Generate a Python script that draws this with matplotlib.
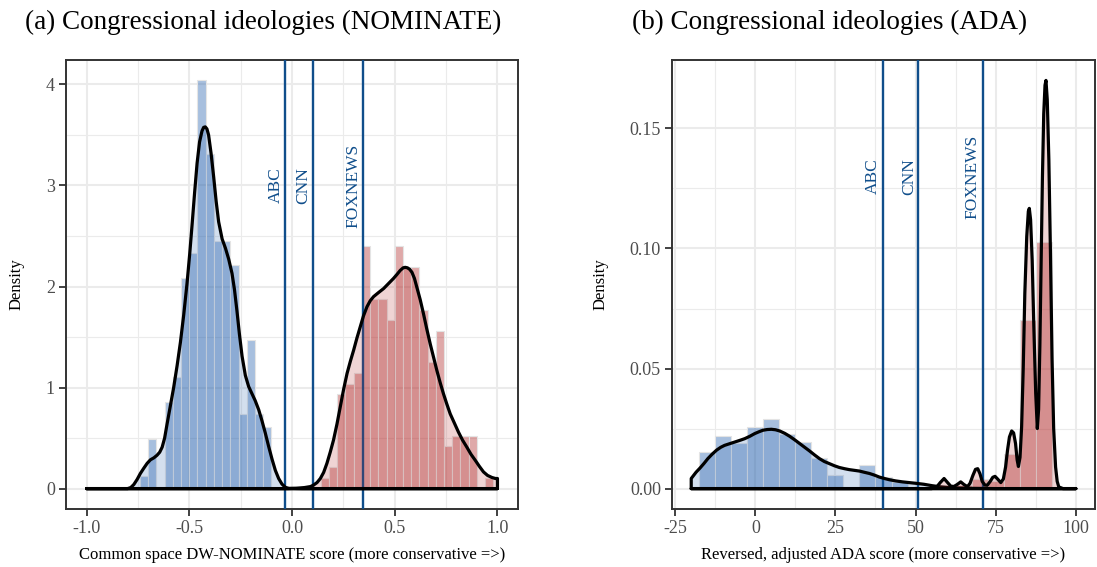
import matplotlib
matplotlib.use("Agg")
import matplotlib.pyplot as plt
from matplotlib.patches import Polygon
import numpy as np

plt.rcParams['font.family'] = ['Liberation Serif', 'DejaVu Serif']
plt.rcParams['axes.unicode_minus'] = False

# ---------------- Panel (a): DW-NOMINATE ----------------
nom_binwidth = 0.04
nom_dem_bin_left = [-0.74, -0.70, -0.66, -0.62, -0.58, -0.54, -0.50, -0.46,
                    -0.42, -0.38, -0.34, -0.30, -0.26, -0.22, -0.18, -0.14]
nom_dem_density = [0.12, 0.49, 0.0, 0.86, 1.10, 2.08, 2.33, 4.04,
                   3.31, 2.45, 2.45, 2.21, 0.74, 1.47, 0.74, 0.61]
nom_rep_bin_left = [0.14, 0.18, 0.22, 0.26, 0.30, 0.34, 0.38, 0.42, 0.46, 0.50,
                    0.54, 0.58, 0.62, 0.66, 0.70, 0.74, 0.78, 0.82, 0.86, 0.90, 0.94]
nom_rep_density = [0.10, 0.21, 0.94, 1.04, 1.14, 2.40, 1.88, 1.88, 1.67, 2.40,
                   2.19, 2.19, 1.77, 1.25, 1.56, 0.42, 0.52, 0.52, 0.52, 0.0, 0.10]

nom_dem_kde_x = [-1.0, -0.80, -0.785, -0.77, -0.754, -0.738, -0.722, -0.705, -0.689,
                 -0.672, -0.657, -0.644, -0.632, -0.62, -0.608, -0.592, -0.576, -0.559,
                 -0.543, -0.527, -0.511, -0.498, -0.486, -0.474, -0.462, -0.450, -0.438,
                 -0.430, -0.422, -0.414, -0.406, -0.394, -0.381, -0.369, -0.357, -0.340,
                 -0.324, -0.308, -0.292, -0.280, -0.268, -0.256, -0.243, -0.227, -0.211,
                 -0.195, -0.179, -0.162, -0.146, -0.130, -0.114, -0.097, -0.081, -0.065,
                 -0.049, -0.032, -0.015, 0.05, 1.0]
nom_dem_kde_y = [0.0, 0.0, 0.01, 0.04, 0.09, 0.15, 0.20, 0.25, 0.285,
                 0.305, 0.33, 0.36, 0.41, 0.50, 0.64, 0.82, 1.00, 1.22,
                 1.45, 1.72, 2.03, 2.32, 2.62, 2.93, 3.22, 3.43, 3.54,
                 3.575, 3.58, 3.56, 3.50, 3.32, 3.08, 2.84, 2.64, 2.47,
                 2.38, 2.27, 2.13, 1.97, 1.76, 1.53, 1.31, 1.12, 1.01,
                 0.94, 0.87, 0.78, 0.67, 0.55, 0.42, 0.29, 0.18, 0.10,
                 0.045, 0.012, 0.002, 0.0, 0.0]
nom_rep_kde_x = [-1.0, -0.02, 0.02, 0.06, 0.09, 0.105, 0.122, 0.138, 0.154, 0.170,
                 0.186, 0.202, 0.219, 0.235, 0.251, 0.268, 0.284, 0.300, 0.316,
                 0.332, 0.348, 0.365, 0.381, 0.397, 0.421, 0.446, 0.470, 0.494,
                 0.511, 0.527, 0.541, 0.551, 0.562, 0.573, 0.584, 0.596, 0.608,
                 0.624, 0.640, 0.656, 0.673, 0.689, 0.705, 0.721, 0.737, 0.753,
                 0.770, 0.790, 0.810, 0.830, 0.851, 0.871, 0.892, 0.912, 0.932,
                 0.952, 0.973, 0.990, 1.0]
nom_rep_kde_y = [0.0, 0.0, 0.003, 0.01, 0.02, 0.035, 0.06, 0.10, 0.16, 0.25,
                 0.36, 0.48, 0.64, 0.81, 0.98, 1.14, 1.26, 1.37, 1.49,
                 1.60, 1.71, 1.80, 1.86, 1.90, 1.94, 1.98, 2.03, 2.08,
                 2.12, 2.16, 2.185, 2.19, 2.185, 2.17, 2.14, 2.08, 1.99,
                 1.87, 1.73, 1.58, 1.43, 1.30, 1.17, 1.05, 0.94, 0.84,
                 0.74, 0.65, 0.56, 0.48, 0.41, 0.34, 0.28, 0.22, 0.165,
                 0.13, 0.11, 0.10, 0.10]

nom_outlets = ["ABC", "CNN", "FOXNEWS"]
nom_outlet_scores = [-0.032, 0.103, 0.346]
nom_xticks = [-1.0, -0.5, 0.0, 0.5, 1.0]
nom_xticklabels = ["-1.0", "-0.5", "0.0", "0.5", "1.0"]
nom_yticks = [0, 1, 2, 3, 4]
nom_yticklabels = ["0", "1", "2", "3", "4"]

# ---------------- Panel (b): ADA ----------------
ada_binwidth = 5
ada_dem_bin_left = [-17.5, -12.5, -7.5, -2.5, 2.5, 7.5, 12.5, 17.5, 22.5,
                    27.5, 32.5, 37.5, 42.5]
ada_dem_density = [0.0153, 0.0218, 0.0190, 0.0257, 0.0289, 0.0229, 0.0194,
                   0.0129, 0.0058, 0.0, 0.0097, 0.0048, 0.0026]
ada_rep_bin_left = [57.5, 62.5, 67.5, 72.5, 77.5, 82.5, 87.5]
ada_rep_density = [0.0008, 0.0017, 0.0042, 0.0033, 0.0146, 0.0701, 0.1028]

ada_dem_kde_x = [-20.0, -18.5, -17.3, -16.0, -14.8, -13.5, -12.1, -10.8, -9.6, -8.0,
                 -6.4, -4.8, -3.3, -1.7, -0.2, 1.2, 2.4, 3.7, 5.0, 6.3, 7.6, 9.2,
                 10.7, 12.3, 13.8, 15.4, 16.9, 18.5, 20.0, 21.5, 23.1, 24.7, 26.2,
                 27.8, 29.3, 30.9, 32.5, 34.0, 35.6, 37.2, 38.7, 40.3, 41.8, 43.8,
                 45.9, 48.0, 50.1, 52.6, 55.2, 58.0, 62.0, 68.0, 75.0, 100.0]
ada_dem_kde_y = [0.0042, 0.0068, 0.0085, 0.0105, 0.0125, 0.0143, 0.0160, 0.0172,
                 0.0180, 0.0187, 0.0194, 0.0201, 0.0208, 0.0218, 0.0229, 0.0237,
                 0.0243, 0.0246, 0.0247, 0.0245, 0.0240, 0.0230, 0.0218, 0.0203,
                 0.0188, 0.0172, 0.0157, 0.0140, 0.0125, 0.0113, 0.0104, 0.0095,
                 0.0088, 0.0083, 0.0079, 0.0076, 0.0073, 0.0068, 0.0063, 0.0056,
                 0.0048, 0.0042, 0.0037, 0.0032, 0.0028, 0.0025, 0.0022, 0.0018,
                 0.0012, 0.0007, 0.0003, 0.0001, 0.0, 0.0]
ada_rep_kde_x = [-20.0, 55.0, 56.5, 57.7, 58.9, 60.0, 61.0, 62.0, 63.0, 64.1, 65.1,
                 66.2, 67.0, 67.9, 68.7, 69.4, 70.1, 70.8, 71.6, 72.4, 73.3, 74.1,
                 74.8, 75.6, 76.6, 77.4, 78.1, 78.7, 79.3, 80.0, 80.6, 81.2, 81.7,
                 82.1, 82.6, 83.1, 83.6, 84.1, 84.7, 85.2, 85.5, 85.9, 86.4, 86.9,
                 87.5, 88.0, 88.4, 88.8, 89.2, 89.6, 90.0, 90.4, 90.7, 91.1, 91.6,
                 92.1, 92.6, 93.1, 93.7, 94.2, 94.7, 96.0, 100.0]
ada_rep_kde_y = [0.0, 0.0, 0.0005, 0.0025, 0.0042, 0.0025, 0.0010, 0.0009, 0.0017,
                 0.0028, 0.0017, 0.0008, 0.0022, 0.0055, 0.0080, 0.0083, 0.0062,
                 0.0030, 0.0015, 0.0014, 0.0030, 0.0047, 0.0051, 0.0040, 0.0025,
                 0.0040, 0.0090, 0.0160, 0.0215, 0.0240, 0.0232, 0.0188, 0.0120,
                 0.0092, 0.0130, 0.0257, 0.0500, 0.0813, 0.1050, 0.1155, 0.1167,
                 0.1120, 0.0951, 0.0680, 0.0396, 0.0250, 0.0330, 0.0600, 0.0950,
                 0.1300, 0.1560, 0.1680, 0.1700, 0.1620, 0.1370, 0.0980, 0.0540,
                 0.0250, 0.0090, 0.0030, 0.0007, 0.0, 0.0]

ada_outlets = ["ABC", "CNN", "FOXNEWS"]
ada_outlet_scores = [39.7, 50.9, 70.9]
ada_xticks = [-25, 0, 25, 50, 75, 100]
ada_xticklabels = ["-25", "0", "25", "50", "75", "100"]
ada_yticks = [0.0, 0.05, 0.10, 0.15]
ada_yticklabels = ["0.00", "0.05", "0.10", "0.15"]

# ---------------- styling ----------------
DEM = (0.137, 0.373, 0.678)
REP = (0.694, 0.157, 0.157)
OUTLET = "#104E8B"
GRID = "#ebebeb"
FRAME = "#333333"

fig = plt.figure(figsize=(10.97, 5.67), dpi=100)
ax1 = fig.add_axes([66 / 1097, 1 - 509 / 567, (518 - 66) / 1097, (509 - 60) / 567])
ax2 = fig.add_axes([672 / 1097, 1 - 509 / 567, (1095 - 672) / 1097, (509 - 60) / 567])


def density_polygon(ax, xs, ys, color):
    pts = np.column_stack([[xs[0]] + list(xs) + [xs[-1]], [0.0] + list(ys) + [0.0]])
    poly = Polygon(pts, closed=True, facecolor=color + (0.2,), edgecolor="black",
                   linewidth=2.3, joinstyle="round", zorder=4)
    ax.add_patch(poly)


def panel(ax, bw, dem_left, dem_h, rep_left, rep_h, dem_kx, dem_ky, rep_kx, rep_ky,
          outlets, scores, label_y, xticks, xticklabels, yticks, yticklabels,
          xminor, yminor, xlim, ylim, xlabel):
    ax.bar(dem_left, dem_h, width=bw, align="edge", color=DEM + (0.4,),
           edgecolor="#e4e4e4", linewidth=0.8, zorder=2)
    ax.bar(rep_left, rep_h, width=bw, align="edge", color=REP + (0.4,),
           edgecolor="#e4e4e4", linewidth=0.8, zorder=2)
    for x in scores:
        ax.axvline(x, color=OUTLET, linewidth=1.7, zorder=3)
    density_polygon(ax, dem_kx, dem_ky, DEM)
    density_polygon(ax, rep_kx, rep_ky, REP)
    for name, x in zip(outlets, scores):
        ax.annotate(name, xy=(x, label_y), xytext=(-1.2, 0), textcoords="offset points",
                    rotation=90, ha="right", va="center", color=OUTLET,
                    fontsize=12.5, zorder=5)
    ax.set_xlim(*xlim)
    ax.set_ylim(*ylim)
    ax.set_xticks(xticks)
    ax.set_xticklabels(xticklabels)
    ax.set_yticks(yticks)
    ax.set_yticklabels(yticklabels)
    ax.set_xticks(xminor, minor=True)
    ax.set_yticks(yminor, minor=True)
    ax.grid(which="major", color=GRID, linewidth=1.5)
    ax.grid(which="minor", color=GRID, linewidth=0.8)
    ax.set_axisbelow(True)
    ax.tick_params(which="major", length=5, width=1.3, color=FRAME,
                   labelcolor="#4d4d4d", labelsize=13, pad=3)
    ax.tick_params(which="minor", length=0)
    for s in ax.spines.values():
        s.set_color(FRAME)
        s.set_linewidth(1.4)
    ax.set_xlabel(xlabel, fontsize=12, labelpad=7)
    ax.set_ylabel("Density", fontsize=12, labelpad=15)


panel(ax1, nom_binwidth, nom_dem_bin_left, nom_dem_density, nom_rep_bin_left,
      nom_rep_density, nom_dem_kde_x, nom_dem_kde_y, nom_rep_kde_x, nom_rep_kde_y,
      nom_outlets, nom_outlet_scores, 3.0, nom_xticks, nom_xticklabels,
      nom_yticks, nom_yticklabels, [-0.75, -0.25, 0.25, 0.75], [0.5, 1.5, 2.5, 3.5],
      (-1.1, 1.1), (-0.202, 4.242),
      "Common space DW-NOMINATE score (more conservative =>)")

panel(ax2, ada_binwidth, ada_dem_bin_left, ada_dem_density, ada_rep_bin_left,
      ada_rep_density, ada_dem_kde_x, ada_dem_kde_y, ada_rep_kde_x, ada_rep_kde_y,
      ada_outlets, ada_outlet_scores, 0.130, ada_xticks, ada_xticklabels,
      ada_yticks, ada_yticklabels, [-12.5, 12.5, 37.5, 62.5, 87.5],
      [0.025, 0.075, 0.125], (-26, 106), (-0.0085, 0.1785),
      "Reversed, adjusted ADA score (more conservative =>)")

fig.text(263.5 / 1097, 1 - 22 / 567, "(a) Congressional ideologies (NOMINATE)",
         ha="center", va="center", fontsize=19.5)
fig.text(829.5 / 1097, 1 - 22 / 567, "(b) Congressional ideologies (ADA)",
         ha="center", va="center", fontsize=19.5)

fig.savefig("out.png", dpi=100)
